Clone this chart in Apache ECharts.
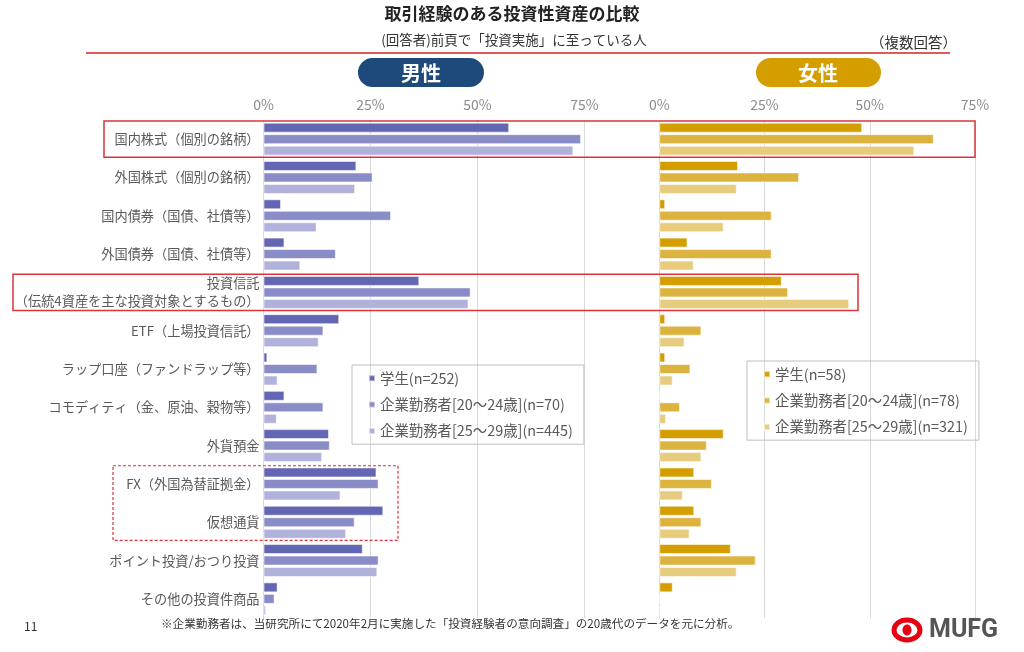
<!DOCTYPE html>
<html><head><meta charset="utf-8">
<script src="https://cdn.jsdelivr.net/npm/echarts@6/dist/echarts.min.js"></script>
<style>html,body{margin:0;padding:0;background:#fff}#c{width:1024px;height:652px}</style>
</head><body><div id="c"></div>
<script>
const categories = ['国内株式（個別の銘柄）','外国株式（個別の銘柄）','国内債券（国債、社債等）','外国債券（国債、社債等）','投資信託\n（伝統4資産を主な投資対象とするもの）','ETF（上場投資信託）','ラップ口座（ファンドラップ等）','コモディティ（金、原油、穀物等）','外貨預金','FX（外国為替証拠金）','仮想通貨','ポイント投資/おつり投資','その他の投資件商品'];
const ticks = [0, 25, 50, 75];
const maleNames = ['学生(n=252)','企業勤務者[20～24歳](n=70)','企業勤務者[25～29歳](n=445)'];
const femaleNames = ['学生(n=58)','企業勤務者[20～24歳](n=78)','企業勤務者[25～29歳](n=321)'];
const maleStudent = [57.4, 21.7, 4.1, 4.9, 36.4, 17.7, 0.9, 4.9, 15.3, 26.4, 28.0, 23.2, 3.3];
const maleW2024  = [74.2, 25.5, 29.8, 16.9, 48.4, 14.0, 12.6, 14.0, 15.5, 26.9, 21.3, 26.9, 2.6];
const maleW2529  = [72.4, 21.4, 12.4, 8.6, 47.9, 12.9, 3.3, 3.1, 13.7, 18.0, 19.3, 26.6, 0.6];
const femaleStudent = [48.2, 18.7, 1.4, 6.7, 29.1, 1.4, 1.4, 0, 15.3, 8.3, 8.3, 17.0, 3.2];
const femaleW2024  = [65.2, 33.2, 26.7, 26.7, 30.6, 10.0, 7.4, 4.9, 11.3, 12.5, 10.0, 22.9, 0];
const femaleW2529  = [60.6, 18.4, 15.3, 8.2, 45.1, 6.0, 3.2, 1.6, 10.0, 5.6, 7.2, 18.4, 0.3];

const maleColors = ['#6366b3','#8a8cc8','#b1b2dc'];
const femaleColors = ['#d49e00','#ddb33f','#e8cc7e'];
const FONT = '"Noto Sans CJK JP", "Noto Sans", sans-serif';

const chart = echarts.init(document.getElementById('c'), null, {renderer:'canvas'});

function xAx(gi){
  return {
    gridIndex: gi, type:'value', position:'top', min:ticks[0], max:ticks[ticks.length-1], interval:ticks[1]-ticks[0],
    axisLine:{show:false}, axisTick:{show:false},
    axisLabel:{formatter:'{value}%', color:'#8c8c8c', fontSize:14, margin:8, fontFamily:'"Liberation Sans Narrow",'+FONT},
    splitLine:{show:true, lineStyle:{color:'#d9d9d9', width:1}}
  };
}
function yAx(gi, showLabel){
  return {
    gridIndex: gi, type:'category', data: categories, inverse:true,
    axisLine:{show:true, lineStyle:{color:'#d9d9d9'}}, axisTick:{show:false},
    axisLabel:{show:showLabel, color:'#595959', fontSize:13.2, margin:4, lineHeight:18, fontFamily:FONT, align:'right'}
  };
}
function ser(name, data, color, gi){
  return {
    type:'bar', name, data, xAxisIndex:gi, yAxisIndex:gi,
    barWidth:10, barGap:'15%',
    itemStyle:{color, borderColor:'rgba(255,255,255,0.55)', borderWidth:1},
    emphasis:{disabled:true}
  };
}

const legendCommon = {
  orient:'vertical', icon:'rect', itemWidth:6, itemHeight:6, itemGap:12,
  borderColor:'#bfbfbf', borderWidth:1, padding:[6,11,6,16],
  textStyle:{color:'#595959', fontSize:14.4, fontFamily:FONT}, selectedMode:false
};

chart.setOption({
  animation:false,
  grid:[
    {left:263.5, right:439.5, top:120, bottom:34, outerBoundsMode:'none'},
    {left:659.3, right:49, top:120, bottom:34, outerBoundsMode:'none'}
  ],
  xAxis:[xAx(0), xAx(1)],
  yAxis:[yAx(0,true), yAx(1,false)],
  legend:[
    Object.assign({}, legendCommon, {data:maleNames, left:352, top:365}),
    Object.assign({}, legendCommon, {data:femaleNames, left:747, top:361})
  ],
  series:[
    ser(maleNames[0], maleStudent, maleColors[0], 0),
    ser(maleNames[1], maleW2024, maleColors[1], 0),
    ser(maleNames[2], maleW2529, maleColors[2], 0),
    ser(femaleNames[0], femaleStudent, femaleColors[0], 1),
    ser(femaleNames[1], femaleW2024, femaleColors[1], 1),
    ser(femaleNames[2], femaleW2529, femaleColors[2], 1)
  ]
});

function bandY(idx){
  const c = chart.convertToPixel({yAxisIndex:0}, idx);
  const h = (chart.convertToPixel({yAxisIndex:0}, 1) - chart.convertToPixel({yAxisIndex:0}, 0));
  return [c - h/2, c + h/2];
}
const b0 = bandY(0), b4 = bandY(4), b9 = bandY(9), b10 = bandY(10);

chart.setOption({
  graphic:[
    {type:'text', left:'center', top:5, style:{text:'取引経験のある投資性資産の比較', font:'bold 17px '+FONT, fill:'#222'}},
    {type:'text', x:514, y:40, style:{text:'(回答者)前頁で「投資実施」に至っている人', font:'13.5px '+FONT, fill:'#333', align:'center', verticalAlign:'middle'}},
    {type:'text', x:957, y:42, style:{text:'（複数回答）', font:'14.5px '+FONT, fill:'#333', align:'right', verticalAlign:'middle'}},
    {type:'line', shape:{x1:86, y1:53, x2:950, y2:53}, style:{stroke:'#e05a5a', lineWidth:2}},
    {type:'rect', shape:{x:358, y:58, width:126, height:29, r:14.5}, style:{fill:'#1d4a7a'}},
    {type:'text', x:421, y:73, style:{text:'男性', font:'bold 20px '+FONT, fill:'#fff', align:'center', verticalAlign:'middle'}},
    {type:'rect', shape:{x:756, y:58, width:125, height:29, r:14.5}, style:{fill:'#d49e00'}},
    {type:'text', x:818, y:73, style:{text:'女性', font:'bold 20px '+FONT, fill:'#fff', align:'center', verticalAlign:'middle'}},
    {type:'rect', z:10, shape:{x:104, y:b0[0]+1, width:871, height:b0[1]-b0[0]-2}, style:{fill:'none', stroke:'#d9343a', lineWidth:1.5}},
    {type:'rect', z:10, shape:{x:13, y:b4[0]+1, width:845, height:b4[1]-b4[0]-2}, style:{fill:'none', stroke:'#d9343a', lineWidth:1.5}},
    {type:'rect', z:10, shape:{x:113, y:b9[0]+1, width:285, height:b10[1]-b9[0]-2}, style:{fill:'none', stroke:'#d9343a', lineWidth:1.2, lineDash:[3,2]}},
    {type:'text', left:24, top:620, style:{text:'11', font:'12px '+FONT, fill:'#333'}},
    {type:'text', x:161, y:624, style:{text:'※企業勤務者は、当研究所にて2020年2月に実施した「投資経験者の意向調査」の20歳代のデータを元に分析。', font:'11.6px '+FONT, fill:'#333', verticalAlign:'middle'}},
    {type:'ellipse', shape:{cx:907, cy:630, rx:13, ry:10}, style:{fill:'none', stroke:'#e60012', lineWidth:5}},
    {type:'ellipse', shape:{cx:907, cy:630, rx:4.5, ry:5.5}, style:{fill:'#e60012'}},
    {type:'text', x:929, y:631, style:{text:'MUFG', font:'bold 25px "Liberation Sans Narrow","Roboto",sans-serif', fill:'#555', verticalAlign:'middle'}}
  ]
});
</script></body></html>
